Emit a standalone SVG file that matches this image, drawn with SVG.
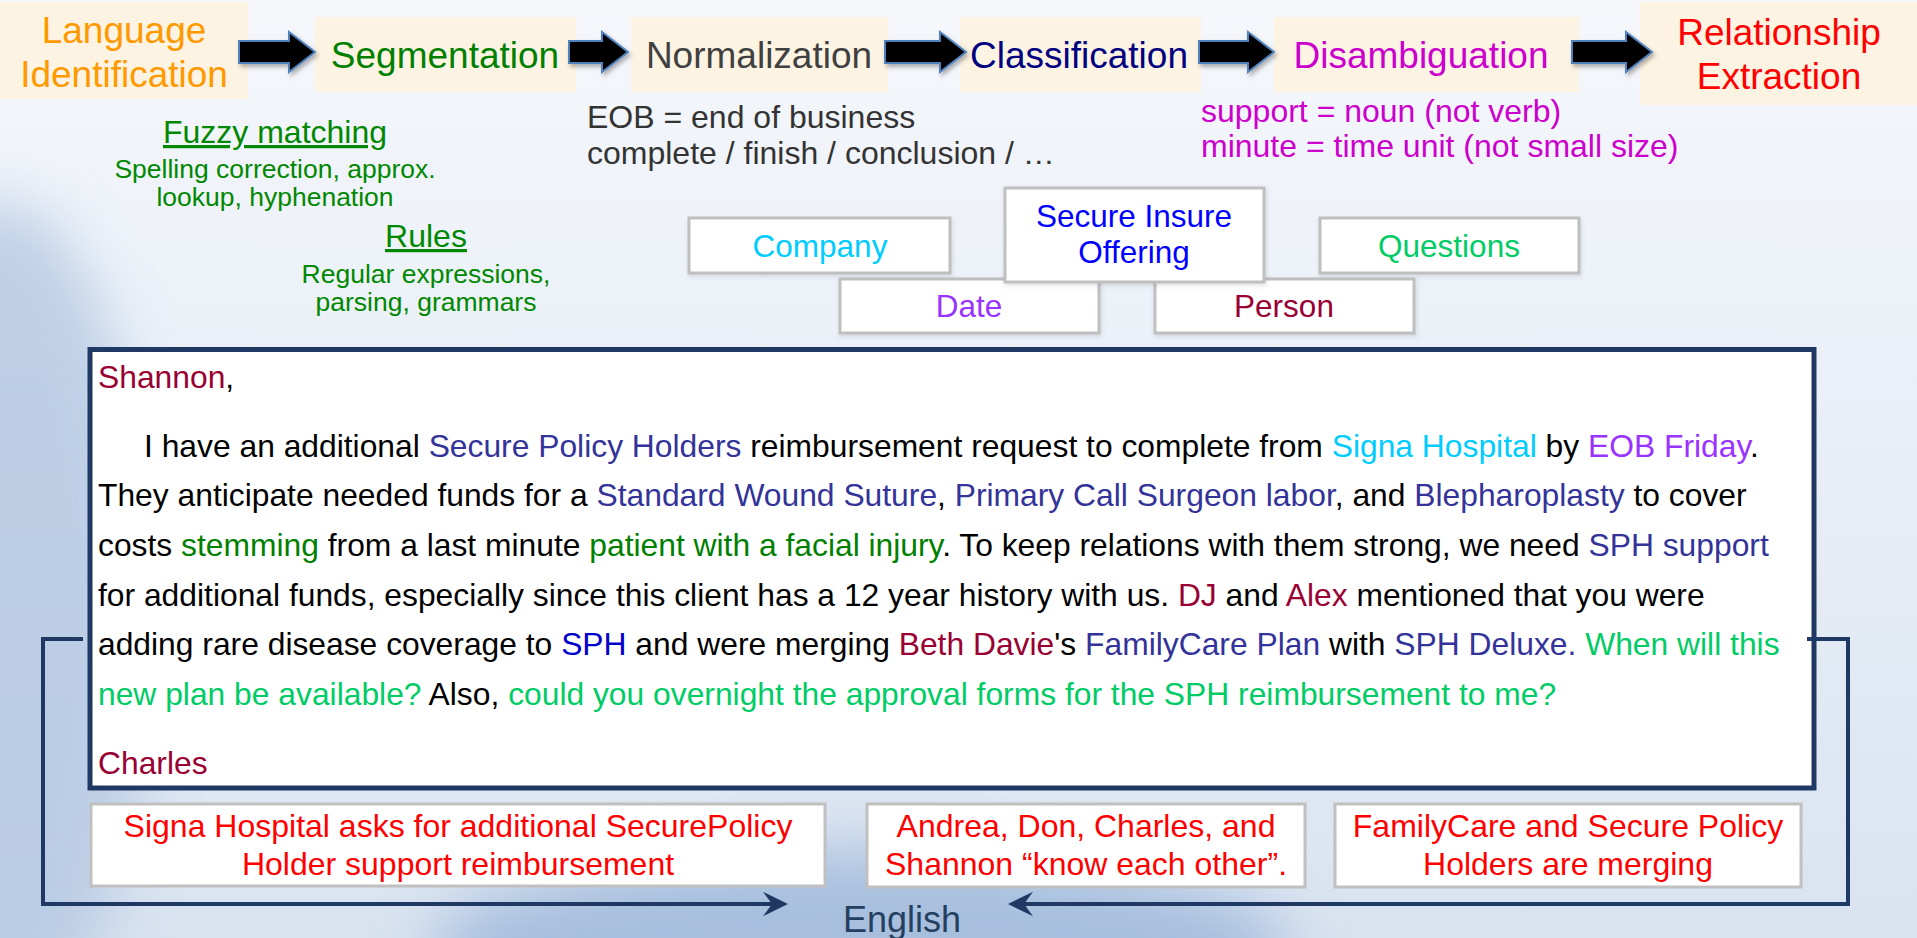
<svg xmlns="http://www.w3.org/2000/svg" width="1917" height="938" viewBox="0 0 1917 938">
<defs>
<linearGradient id="bgv" x1="0" y1="0" x2="0" y2="1">
<stop offset="0" stop-color="#F5F7FB"/>
<stop offset="0.45" stop-color="#E9EFF7"/>
<stop offset="1" stop-color="#D9E3F0"/>
</linearGradient>
<filter id="blur" x="-50%" y="-50%" width="200%" height="200%"><feGaussianBlur stdDeviation="30"/></filter>
<filter id="sh" x="-10%" y="-20%" width="130%" height="150%"><feDropShadow dx="2" dy="3" stdDeviation="2" flood-color="#000" flood-opacity="0.3"/></filter>
<filter id="bsh" x="-5%" y="-10%" width="110%" height="130%"><feDropShadow dx="1" dy="2" stdDeviation="2" flood-color="#556" flood-opacity="0.18"/></filter>
<marker id="stealth" markerUnits="userSpaceOnUse" markerWidth="30" markerHeight="28" viewBox="0 0 30 28" refX="10" refY="14" orient="auto">
<path d="M26,14 L1,1.7 L10,14 L1,26.3 Z" fill="#1F3864"/>
</marker>
<style>
text{font-family:"Liberation Sans",Arial,sans-serif}
.pipe{fill:#FDF3E2}
.pl{font-size:37px;text-anchor:middle}
.arr{fill:#000;stroke:#4F81BD;stroke-width:2;filter:url(#sh)}
.cat{fill:#fff;stroke:#BFBFBF;stroke-width:3;filter:url(#bsh)}
.ct{font-size:31.5px;text-anchor:middle}
.rel{fill:#fff;stroke:#C0C0C0;stroke-width:3}
.rt{font-size:32px;text-anchor:middle;fill:#FF0000}
.em{font-size:31.8px;fill:#000}
.note{font-size:32px}
.sm{font-size:26.5px;fill:#008800;text-anchor:middle}
.hd{font-size:32px;fill:#008800;text-anchor:middle;text-decoration:underline}
.br{fill:none;stroke:#1F3864;stroke-width:4}
.k{fill:#000}.pr{fill:#990033}.of{fill:#333399}.co{fill:#00CCFF}.dt{fill:#9933FF}.gd{fill:#008000}.q{fill:#00CC66}.bl{fill:#0000CC}
</style>
</defs>
<g id="background">
<rect x="0" y="0" width="1917" height="938" fill="url(#bgv)"/>
<ellipse cx="0" cy="620" rx="150" ry="420" fill="#B3C7E2" opacity="0.8" filter="url(#blur)"/>
<ellipse cx="860" cy="950" rx="430" ry="100" fill="#86A7D2" opacity="0.6" filter="url(#blur)"/>
</g>
<g id="lang-id">
<rect class="pipe" x="0" y="2" width="248" height="97"/>
<text class="pl" fill="#FF9900"><tspan x="124" y="43">Language</tspan><tspan x="124" y="87">Identification</tspan></text>
</g>
<g id="segmentation">
<rect class="pipe" x="315" y="17" width="261" height="75"/>
<text class="pl" x="445" y="68" fill="#008000">Segmentation</text>
</g>
<g id="normalization">
<rect class="pipe" x="631" y="17" width="257" height="75"/>
<text class="pl" x="759" y="68" fill="#404040">Normalization</text>
</g>
<g id="classification">
<rect class="pipe" x="960" y="17" width="241" height="75"/>
<text class="pl" x="1079" y="68" fill="#000080">Classification</text>
</g>
<g id="disambiguation">
<rect class="pipe" x="1274" y="17" width="305" height="75"/>
<text class="pl" x="1421" y="68" fill="#CC00CC">Disambiguation</text>
</g>
<g id="relationship">
<rect class="pipe" x="1640" y="2" width="277" height="103"/>
<text class="pl" fill="#FF0000"><tspan x="1779" y="45">Relationship</tspan><tspan x="1779" y="89">Extraction</tspan></text>
</g>
<g id="segmentation-notes">
<text class="hd" x="275" y="143">Fuzzy matching</text>
<text class="sm"><tspan x="275" y="178">Spelling correction, approx.</tspan><tspan x="275" y="206">lookup, hyphenation</tspan></text>
<text class="hd" x="426" y="247">Rules</text>
<text class="sm"><tspan x="426" y="283">Regular expressions,</tspan><tspan x="426" y="311">parsing, grammars</tspan></text>
</g>
<g id="normalization-notes">
<text class="note" fill="#333333"><tspan x="587" y="128">EOB = end of business</tspan><tspan x="587" y="164">complete / finish / conclusion / …</tspan></text>
</g>
<g id="disambiguation-notes">
<text class="note" fill="#CC00CC"><tspan x="1201" y="122">support = noun (not verb)</tspan><tspan x="1201" y="157">minute = time unit (not small size)</tspan></text>
</g>
<g id="cat-company">
<rect class="cat" x="689" y="218" width="261" height="55"/>
<text class="ct co" x="820" y="257">Company</text>
</g>
<g id="cat-questions">
<rect class="cat" x="1320" y="218" width="259" height="55"/>
<text class="ct q" x="1449" y="257">Questions</text>
</g>
<g id="cat-date">
<rect class="cat" x="840" y="279" width="259" height="54"/>
<text class="ct dt" x="969" y="317">Date</text>
</g>
<g id="cat-person">
<rect class="cat" x="1155" y="279" width="259" height="54"/>
<text class="ct pr" x="1284" y="317">Person</text>
</g>
<g id="cat-offering">
<rect class="cat" x="1005" y="188" width="259" height="94"/>
<text class="ct" fill="#0000FF"><tspan x="1134" y="227">Secure Insure</tspan><tspan x="1134" y="263">Offering</tspan></text>
</g>
<g id="email">
<rect x="90" y="349.5" width="1724" height="438.5" fill="#fff" stroke="#1F3864" stroke-width="5"/>
<text class="em" x="98" y="388"><tspan class="pr">Shannon</tspan>,</text>
<text class="em" x="144" y="457">I have an additional <tspan class="of">Secure Policy Holders</tspan> reimbursement request to complete from <tspan class="co">Signa Hospital</tspan> by <tspan class="dt">EOB Friday</tspan>.</text>
<text class="em" x="98" y="506">They anticipate needed funds for a <tspan class="of">Standard Wound Suture</tspan>, <tspan class="of">Primary Call Surgeon labor</tspan>, and <tspan class="of">Blepharoplasty</tspan> to cover</text>
<text class="em" x="98" y="556">costs <tspan class="gd">stemming</tspan> from a last minute <tspan class="gd">patient with a facial injury</tspan>. To keep relations with them strong, we need <tspan class="of">SPH support</tspan></text>
<text class="em" x="98" y="606">for additional funds, especially since this client has a 12 year history with us. <tspan class="pr">DJ</tspan> and <tspan class="pr">Alex</tspan> mentioned that you were</text>
<text class="em" x="98" y="655">adding rare disease coverage to <tspan class="bl">SPH</tspan> and were merging <tspan class="pr">Beth Davie</tspan>'s <tspan class="of">FamilyCare Plan</tspan> with <tspan class="of">SPH Deluxe.</tspan> <tspan class="q">When will this</tspan></text>
<text class="em" x="98" y="705"><tspan class="q">new plan be available?</tspan> Also, <tspan class="q">could you overnight the approval forms for the SPH reimbursement to me?</tspan></text>
<text class="em pr" x="98" y="774">Charles</text>
</g>
<g id="rel-signa">
<rect class="rel" x="91" y="804" width="734" height="82"/>
<text class="rt"><tspan x="458" y="837">Signa Hospital asks for additional SecurePolicy</tspan><tspan x="458" y="875">Holder support reimbursement</tspan></text>
</g>
<g id="rel-know">
<rect class="rel" x="867" y="804" width="438" height="83"/>
<text class="rt"><tspan x="1086" y="837">Andrea, Don, Charles, and</tspan><tspan x="1086" y="875">Shannon “know each other”.</tspan></text>
</g>
<g id="rel-merging">
<rect class="rel" x="1335" y="804" width="466" height="83"/>
<text class="rt"><tspan x="1568" y="837">FamilyCare and Secure Policy</tspan><tspan x="1568" y="875">Holders are merging</tspan></text>
</g>
<g id="english">
<text x="843" y="932" font-size="36" fill="#243F60">English</text>
</g>
<g id="connectors">
<polygon class="arr" points="239,41 289,41 289,32 315,52 289,72 289,63 239,63"/>
<polygon class="arr" points="569,41 602,41 602,32 628,52 602,72 602,63 569,63"/>
<polygon class="arr" points="885,41 940,41 940,32 966,52 940,72 940,63 885,63"/>
<polygon class="arr" points="1199,41 1248,41 1248,32 1274,52 1248,72 1248,63 1199,63"/>
<polygon class="arr" points="1572,41 1626,41 1626,32 1652,52 1626,72 1626,63 1572,63"/>
<path class="br" d="M83,639 H43 V904 H772" marker-end="url(#stealth)"/>
<path class="br" d="M1807,639 H1848 V904 H1024" marker-end="url(#stealth)"/>
</g>
</svg>
